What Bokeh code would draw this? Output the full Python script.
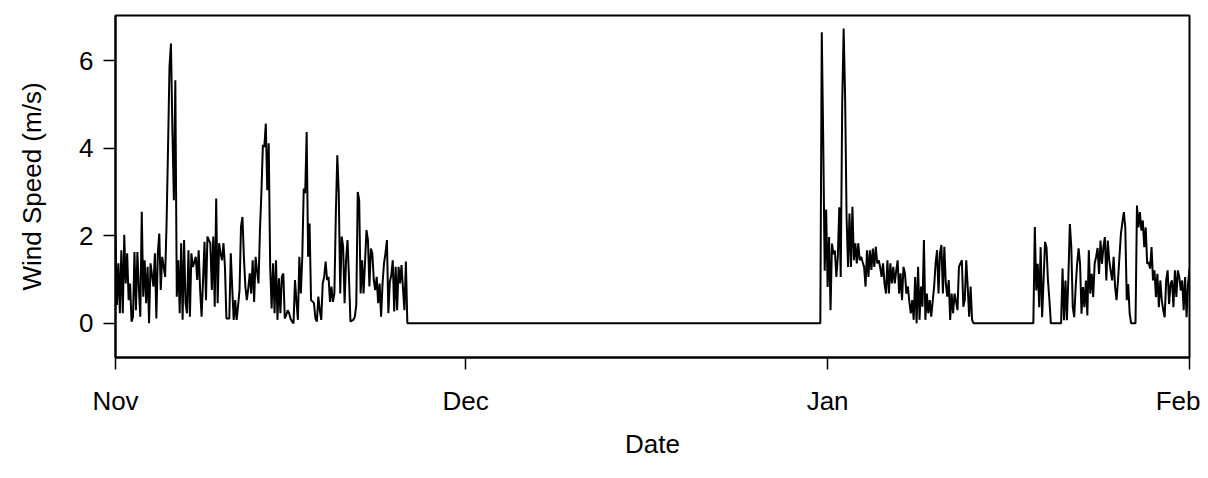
import pandas as pd
from bokeh.plotting import figure
from bokeh.models import Range1d, FixedTicker, DatetimeTickFormatter, ColumnDataSource
from bokeh.embed import file_html
from bokeh.resources import INLINE

# ---------------- data (3-hourly wind speed, m/s) ----------------
period_start = "2007-11-01 00:00"
period_end = "2008-02-01 00:00"
step = "3h"

seg1_start = "2007-11-01 00:00"
seg1_speed = [
    2.02, 0.42, 1.37, 0.23, 1.67, 0.23, 2.02, 0.91, 1.60, 0.53,
    0.91, 0.04, 0.15, 1.63, 0.30, 1.63, 0.80, 0.15, 2.55, 0.61,
    1.44, 0.46, 1.29, 0.00, 1.37, 1.10, 0.84, 1.60, 0.11, 1.60,
    2.05, 0.76, 1.52, 1.30, 1.06, 2.28, 4.00, 5.86, 6.39, 4.40,
    2.81, 5.55, 0.61, 1.44, 0.23, 1.83, 0.08, 1.90, 0.46, 0.23,
    1.67, 0.15, 1.60, 1.29, 1.40, 1.52, 0.99, 1.67, 0.76, 0.15,
    1.00, 1.86, 0.53, 1.98, 1.90, 1.83, 0.76, 1.98, 0.38, 2.85,
    0.46, 1.83, 1.60, 1.44, 1.83, 1.29, 0.11, 0.11, 0.11, 1.60,
    0.80, 0.08, 0.53, 0.08, 0.40, 0.76, 2.21, 2.43, 1.50, 0.84,
    0.53, 0.80, 1.14, 0.68, 1.44, 0.49, 1.52, 1.20, 0.91, 2.13,
    3.00, 4.07, 4.03, 4.56, 3.04, 4.11, 1.29, 0.34, 1.37, 0.23,
    1.44, 0.08, 1.03, 0.23, 1.06, 1.14, 0.11, 0.19, 0.30, 0.23,
    0.10, 0.04, 0.00, 0.99, 0.50, 0.08, 1.52, 0.68, 1.52, 3.08,
    2.97, 4.37, 1.52, 2.28, 0.53, 0.50, 0.46, 0.11, 0.04, 0.61,
    0.30, 0.08, 0.91, 1.06, 1.41, 0.99, 1.06, 0.49, 0.84, 0.49,
    0.68, 2.50, 3.84, 2.97, 0.68, 1.98, 1.75, 0.46, 1.44, 1.90,
    1.06, 0.04, 0.06, 0.08, 0.15, 0.42, 3.00, 2.81, 0.68, 1.44,
    0.68, 1.40, 2.13, 1.90, 0.84, 1.71, 1.60, 0.99, 0.76, 1.06,
    0.46, 0.91, 0.15, 0.91, 1.37, 1.60, 1.90, 0.23, 0.95, 1.10,
    1.44, 0.27, 1.29, 0.30, 1.29, 0.91, 1.33, 0.80, 0.30, 1.41,
    0.00,
]

seg2_start = "2007-12-31 12:00"
seg2_speed = [
    6.65, 4.17, 1.20, 2.60, 0.83, 1.97, 0.30, 1.82, 1.58, 1.66,
    1.06, 1.52, 2.65, 1.06, 5.00, 6.73,
    5.17, 2.43, 1.29, 2.51, 1.29, 2.66, 1.44, 1.83, 1.37, 1.83,
    1.44, 1.52, 1.40, 1.29, 0.84, 1.67, 1.06, 1.67, 1.22, 1.71,
    1.29, 1.75, 1.37, 1.44, 1.29, 1.06, 1.37, 0.90, 0.68, 1.44,
    0.68, 1.37, 0.91, 1.29, 0.91, 1.20, 1.44, 0.68, 1.14, 0.53,
    1.29, 1.14, 0.68, 0.84, 0.50, 0.23, 0.53, 0.08, 1.06, 0.00,
    1.29, 0.08, 0.84, 0.38, 1.90, 0.08, 0.68, 0.23, 0.53, 0.15,
    0.50, 0.84, 1.37, 1.67, 0.68, 1.60, 1.79, 0.68, 1.75, 0.91,
    0.61, 0.99, 0.08, 0.68, 0.23, 0.68, 0.50, 0.30, 1.29, 1.37,
    1.44, 0.38, 0.53, 1.44, 0.84, 0.15, 0.84, 0.08, 0.00,
]

seg3_start = "2008-01-18 18:00"
seg3_speed = [
    2.20, 0.75, 1.36, 0.37, 1.74, 0.14, 0.98, 1.86, 1.74, 0.98,
    0.53, 0.00, 0.00, 0.00, 0.00, 0.00, 0.00, 0.00, 0.00,
    1.25, 0.07, 0.98, 0.07, 1.06, 2.27, 1.74, 0.37, 0.14, 0.83,
    1.36, 1.71, 1.36, 0.22, 0.83, 0.37, 0.98, 0.18, 1.67, 0.68,
    1.13, 0.60, 1.36, 1.52, 1.72, 1.13, 1.89, 1.36, 1.74, 1.97,
    0.98, 1.89, 1.44, 1.20, 0.98, 1.52, 0.83, 0.53, 0.98, 1.52,
    2.05, 2.30, 2.54, 2.19, 0.53, 0.90, 0.22, 0.00, 0.00, 0.00,
    0.00,
    2.69, 2.19, 2.54, 2.12, 2.35, 1.74, 2.19, 1.36, 1.40, 1.25,
    1.74, 0.98, 1.21, 0.60, 1.13, 0.37, 0.98, 0.53, 0.30, 0.14,
    0.98, 1.21, 0.44, 0.90, 0.98, 0.37, 1.21, 0.60, 1.21, 1.06,
    0.75, 0.98, 0.30, 1.06, 0.14, 0.90, 1.25,
]

month_ticks = ["2007-11-01", "2007-12-01", "2008-01-01", "2008-02-01"]
month_labels = ["Nov", "Dec", "Jan", "Feb"]
y_ticks = [0, 2, 4, 6]
y_min, y_max = -0.78, 7.03

x_title = "Date"
y_title = "Wind Speed (m/s)"

# ---------------- build series ----------------
times = pd.date_range(period_start, period_end, freq=step)
speed = pd.Series(0.0, index=times)
for start, vals in [(seg1_start, seg1_speed), (seg2_start, seg2_speed), (seg3_start, seg3_speed)]:
    idx = pd.date_range(start, periods=len(vals), freq=step)
    idx = idx[idx <= times[-1]]
    speed.loc[idx] = vals[:len(idx)]

source = ColumnDataSource(data=dict(t=times, v=speed.values))

FONT = "Liberation Sans"
FS = "26px"

p = figure(
    width=1200, height=470,
    x_axis_type="datetime",
    x_range=Range1d(pd.Timestamp(period_start), pd.Timestamp(period_end)),
    y_range=Range1d(y_min, y_max),
    output_backend="svg", toolbar_location=None,
    min_border_left=115, min_border_right=11,
    min_border_top=15, min_border_bottom=113,
)
p.line("t", "v", source=source, line_color="black", line_width=2)

p.grid.visible = False
p.outline_line_color = "black"
p.outline_line_width = 2
p.background_fill_color = "white"
p.border_fill_color = "white"

tick_ms = [pd.Timestamp(t).value // 10**6 for t in month_ticks]
p.xaxis.ticker = FixedTicker(ticks=tick_ms)
fmt = "%b"
p.xaxis.formatter = DatetimeTickFormatter(
    microseconds=fmt, milliseconds=fmt, seconds=fmt, minsec=fmt, minutes=fmt,
    hourmin=fmt, hours=fmt, days=fmt, months=fmt, years=fmt,
)
p.xaxis.major_label_overrides = {ms: lab for ms, lab in zip(tick_ms, month_labels)}
p.yaxis.ticker = FixedTicker(ticks=y_ticks)

for ax in (p.xaxis, p.yaxis):
    ax.axis_line_color = "black"
    ax.axis_line_width = 2
    ax.major_tick_line_color = "black"
    ax.major_tick_line_width = 1.5
    ax.major_tick_in = 0
    ax.major_tick_out = 12
    ax.minor_tick_line_color = None
    ax.major_label_text_font = FONT
    ax.major_label_text_font_size = FS
    ax.major_label_text_color = "black"
    ax.axis_label_text_font = FONT
    ax.axis_label_text_font_size = FS
    ax.axis_label_text_font_style = "normal"
    ax.axis_label_text_color = "black"

p.xaxis.axis_label = x_title
p.yaxis.axis_label = y_title
p.xaxis.major_label_standoff = 16
p.yaxis.major_label_standoff = 10
p.xaxis.axis_label_standoff = 10
p.yaxis.axis_label_standoff = 29

open("out.html", "w").write(file_html(p, INLINE))
